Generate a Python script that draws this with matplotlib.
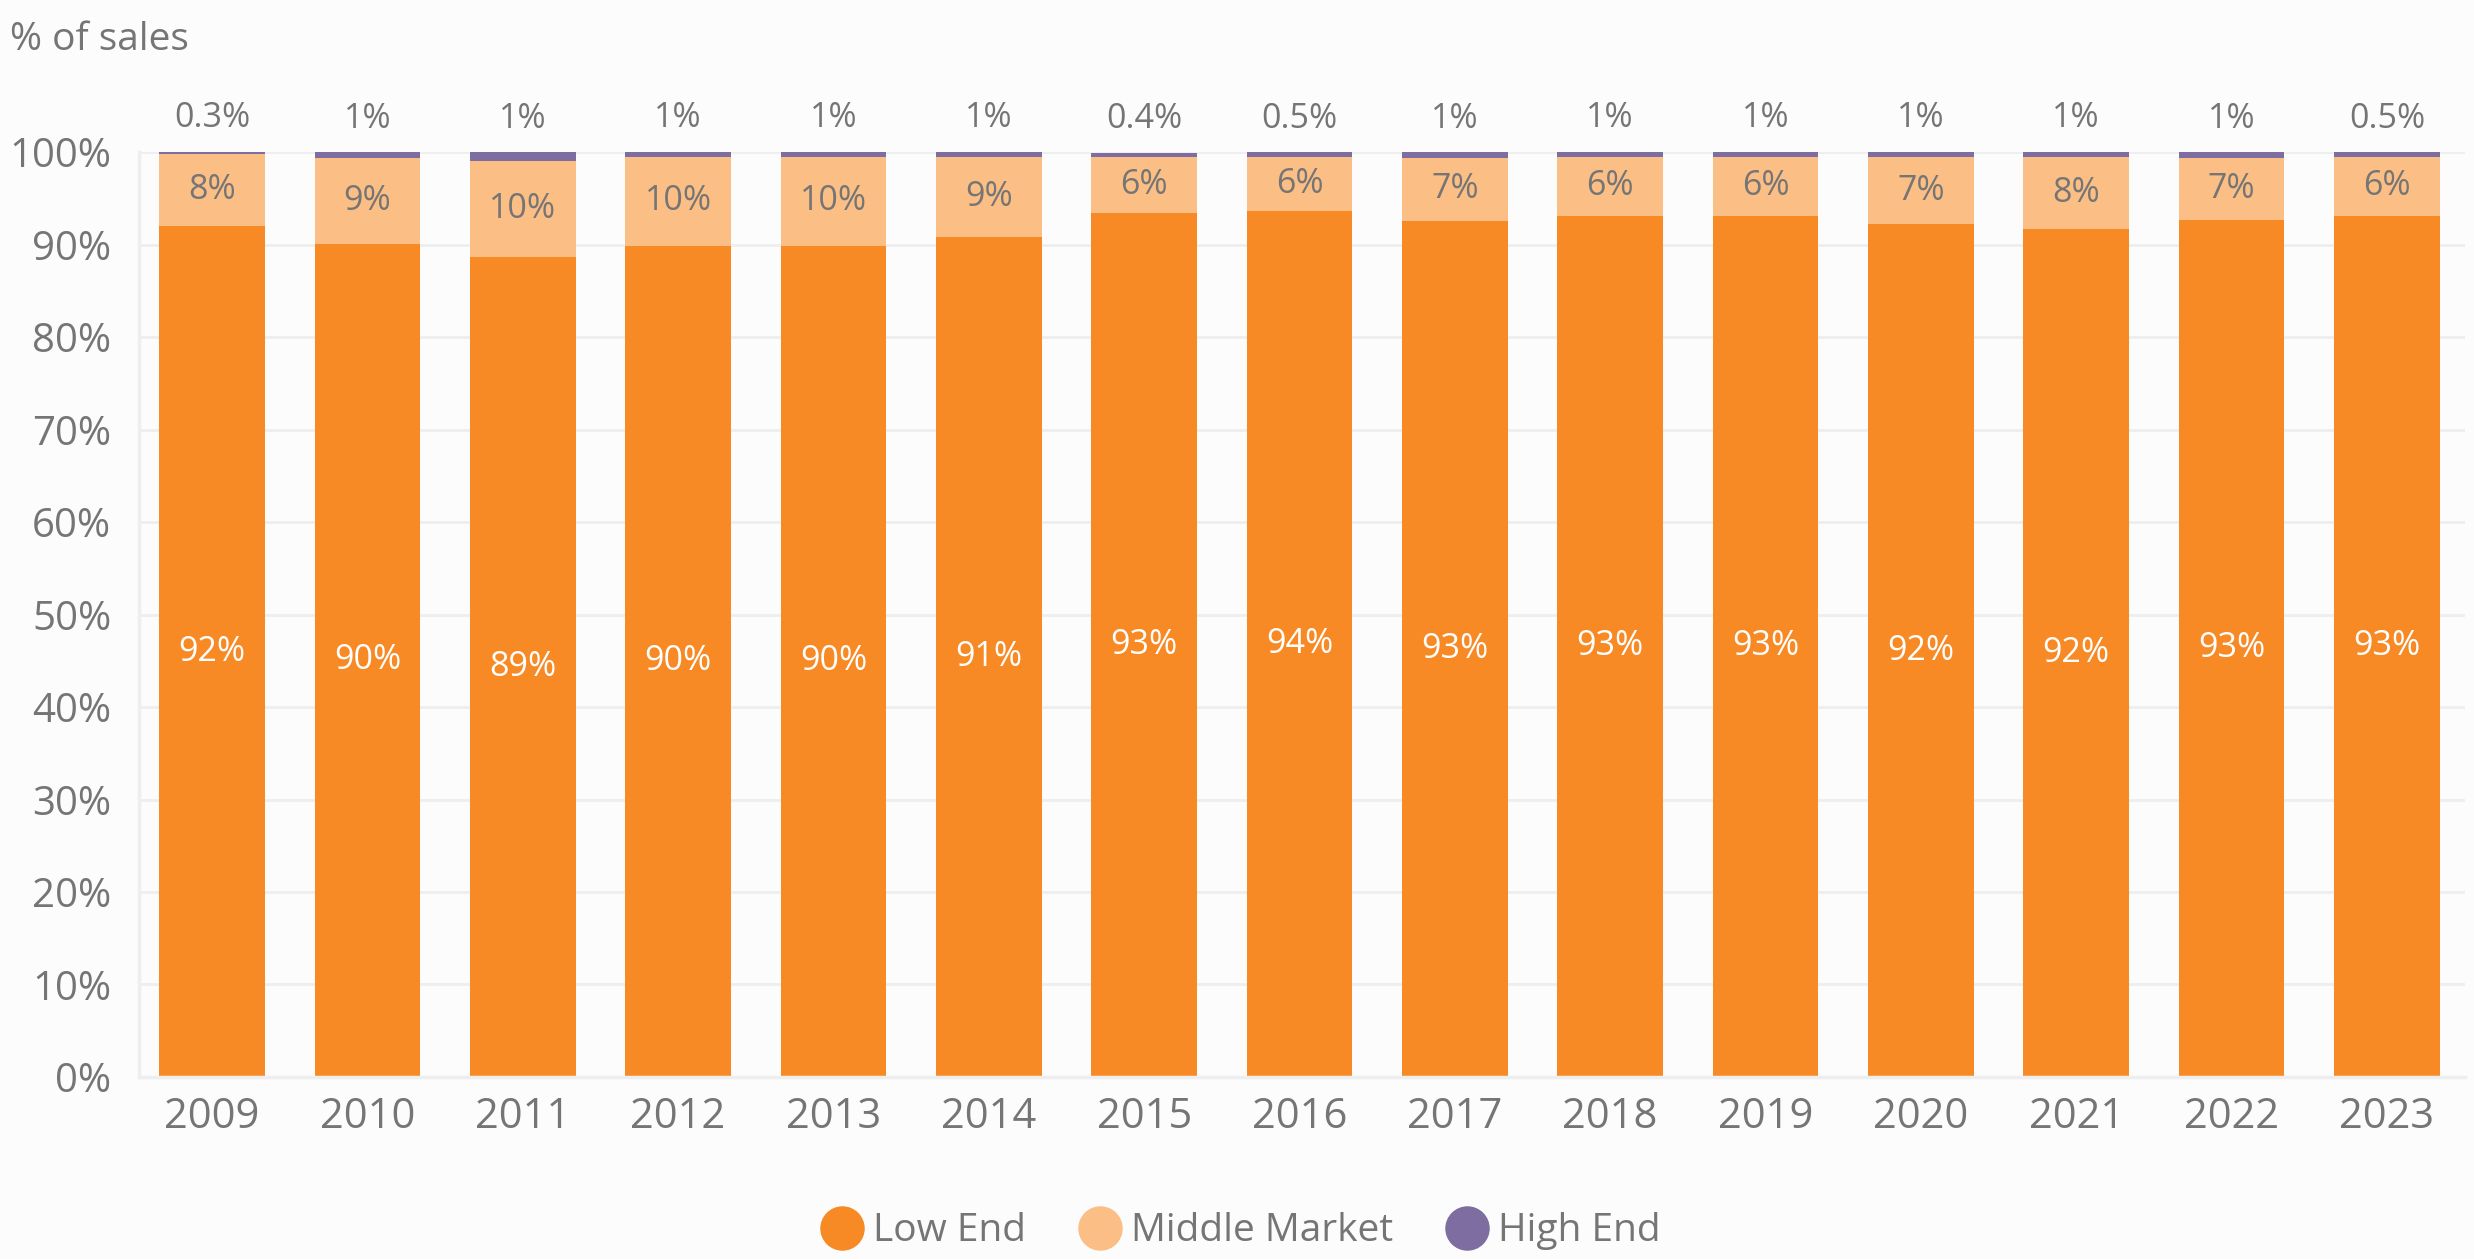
import matplotlib.pyplot as plt
from matplotlib.lines import Line2D
import numpy as np

years = ['2009', '2010', '2011', '2012', '2013', '2014', '2015', '2016',
         '2017', '2018', '2019', '2020', '2021', '2022', '2023']
low_end = [92.0, 90.1, 88.7, 89.9, 89.9, 90.8, 93.4, 93.6, 92.6, 93.1, 93.1, 92.2, 91.7, 92.7, 93.1]
middle_market = [7.8, 9.3, 10.4, 9.6, 9.6, 8.7, 6.1, 5.9, 6.8, 6.4, 6.4, 7.3, 7.8, 6.7, 6.4]
high_end = [0.3, 0.6, 0.9, 0.6, 0.6, 0.6, 0.4, 0.5, 0.6, 0.6, 0.6, 0.6, 0.6, 0.6, 0.5]

c_low = '#f78a25'
c_mid = '#fbbe84'
c_high = '#7e6da0'
grey = '#757575'
bg = '#fcfcfc'

plt.rcParams['font.family'] = ['Open Sans', 'DejaVu Sans']


def fmt(v):
    # small shares keep one decimal, the rest are whole percents
    return f"{round(v)}%" if round(v) >= 1 else f"{v:.1f}%"


fig = plt.figure(figsize=(24.74, 12.59), dpi=100, facecolor=bg)
ax = fig.add_axes([0.0562, 0.1446, 0.94, 0.7345], facecolor=bg)

x = np.arange(len(years))
low = np.array(low_end)
mid = np.array(middle_market)
high = np.array(high_end)
w = 0.68

ax.bar(x, low, w, color=c_low, zorder=2)
ax.bar(x, mid, w, bottom=low, color=c_mid, zorder=2)
ax.bar(x, high, w, bottom=low + mid, color=c_high, zorder=2)

for i in range(len(years)):
    ax.text(x[i], low[i] / 2, fmt(low[i]), ha='center', va='center',
            color='white', fontsize=24.5)
    ax.text(x[i], low[i] + mid[i] / 2, fmt(mid[i]), ha='center', va='center',
            color=grey, fontsize=24.5)
    ax.annotate(fmt(high[i]), (x[i], low[i] + mid[i] + high[i]),
                xytext=(0, 12), textcoords='offset points',
                ha='center', va='bottom', color=grey, fontsize=24.5,
                annotation_clip=False)

ax.set_ylim(0, 100)
ax.set_xlim(-0.47, 14.5)
ax.set_yticks(np.arange(0, 101, 10))
ax.set_yticklabels([f"{t}%" for t in range(0, 101, 10)])
ax.set_xticks(x)
ax.set_xticklabels(years)
ax.tick_params(axis='y', length=0, pad=20, labelsize=29, labelcolor=grey)
ax.tick_params(axis='x', length=0, pad=14, labelsize=30, labelcolor=grey)
ax.grid(axis='y', color='#eeeeee', linewidth=2, zorder=0)
ax.set_axisbelow(True)
for s in ['top', 'right']:
    ax.spines[s].set_visible(False)
for s in ['left', 'bottom']:
    ax.spines[s].set_color('#eeeeee')
    ax.spines[s].set_linewidth(2.5)

fig.text(0.004, 0.968, '% of sales', ha='left', va='center', fontsize=28, color=grey)

handles = [Line2D([], [], marker='o', linestyle='', markersize=31, color=c)
           for c in [c_low, c_mid, c_high]]
fig.legend(handles, ['Low End', 'Middle Market', 'High End'], loc='center',
           bbox_to_anchor=(0.502, 0.022), ncol=3, frameon=False, fontsize=28,
           labelcolor=grey, handlelength=1.0, handletextpad=0.3, columnspacing=1.4)

fig.savefig('out.png', dpi=100, facecolor=bg)
